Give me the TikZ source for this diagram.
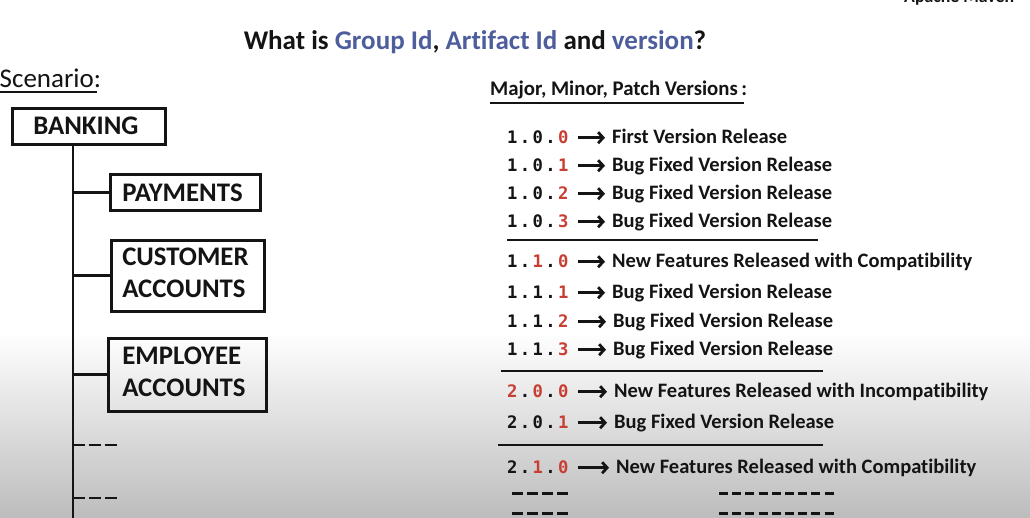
\documentclass[tikz,border=0pt]{standalone}
\usepackage{fontspec}
\setmainfont{Carlito}[Ligatures={NoCommon}]
\newfontfamily\vermono{DejaVu Sans Mono}
\usetikzlibrary{arrows.meta}

\definecolor{ink}{RGB}{20,20,20}
\definecolor{verred}{RGB}{200,62,50}
\definecolor{titleblue}{RGB}{78,94,156}

% version number: three digits spaced apart
\newcommand{\vgap}{\kern2.4pt}
\newcommand{\ver}[3]{#1\vgap.\vgap#2\vgap.\vgap#3}
\newcommand{\rd}[1]{\textcolor{verred}{#1}}
\newcommand{\bl}[1]{\textcolor{titleblue}{#1}}

\tikzset{
  box/.style={draw=ink, line width=2.6pt, align=left, anchor=north west,
    inner ysep=0pt, font=\fontsize{26.8}{32}\selectfont\bfseries, text=ink},
  trunk/.style={draw=ink, line width=2.8pt},
  stub/.style={draw=ink, line width=2.8pt, dash pattern=on 12pt off 4pt},
  vnum/.style={anchor=base west, inner sep=0pt, text=ink,
    font=\vermono\fontsize{17.2}{20}\selectfont\bfseries},
  desc/.style={anchor=base west, inner sep=0pt, text=ink,
    font=\fontsize{20.5}{24}\selectfont\bfseries},
  varrow/.style={draw=ink, line width=2.8pt,
    -{Straight Barb[length=5pt,width=11pt]}, shorten <=9pt, shorten >=7pt},
  rule/.style={draw=ink, line width=2pt},
  fill dash/.style={draw=ink, line width=3pt},
}

\begin{document}
\begin{tikzpicture}[x=1pt, y=-1pt]
\useasboundingbox (0,0) rectangle (1030,517);
\clip (0,0) rectangle (1030,517);

% page background with soft grey fade at the bottom
\fill[white] (0,0) rectangle (1030,517);
\shade[top color=white, bottom color=black!26] (0,332) rectangle (1030,517);

% header
\node[anchor=base west, inner sep=0pt, font=\fontsize{17.8}{20}\selectfont\bfseries, text=ink]
  (brand) at (904,2) {Apache Maven};
\node[anchor=base, inner sep=0pt, font=\fontsize{27}{32}\selectfont\bfseries, text=ink]
  (title) at (475,49) {What is \bl{Group Id}, \bl{Artifact Id} and \bl{version}?};

% scenario tree
\node[anchor=base west, inner sep=0pt, font=\fontsize{27}{30}\selectfont, text=ink]
  (scen) at (-0.5,87) {Scenario:};
\draw[rule] (0,92) -- (97,92);

\node[box, inner xsep=21pt, text width=111pt, minimum height=36pt] (bank) at (11,107) {BANKING};
\node[box, inner xsep=12pt, text width=126pt, minimum height=36pt] (pay) at (109,173) {PAYMENTS};
\node[box, inner xsep=11pt, text width=131pt, minimum height=71pt, text depth=38pt] (cust) at (110,239) {CUSTOMER\\ACCOUNTS};
\node[box, inner xsep=14pt, text width=130pt, minimum height=73pt, text depth=38pt] (emp) at (107,337) {EMPLOYEE\\ACCOUNTS};

\coordinate (tend) at (73,520);
\coordinate (moreA) at (118,445);
\coordinate (moreB) at (118,498);
\draw[trunk] (bank.south -| tend) -- (tend);
\draw[trunk] (pay.west -| tend) -- (pay.west);
\draw[trunk] (cust.west -| tend) -- (cust.west);
\draw[trunk] (emp.west -| tend) -- (emp.west);
\draw[stub] (moreA -| tend) -- (moreA);
\draw[stub] (moreB -| tend) -- (moreB);

% semantic versioning list
\node[anchor=base west, inner sep=0pt, font=\fontsize{20.8}{24}\selectfont\bfseries, text=ink]
  (major) at (490,95) {Major, Minor, Patch Versions\,:};
\draw[rule] (490,103) -- (744,103);

\node[vnum] (v1) at (507,143) {\ver{1}{0}{\rd{0}}};
\node[desc] (d1) at (612,143) {First Version Release};
\node[vnum] (v2) at (507,171) {\ver{1}{0}{\rd{1}}};
\node[desc] (d2) at (612,171) {Bug Fixed Version Release};
\node[vnum] (v3) at (507,199) {\ver{1}{0}{\rd{2}}};
\node[desc] (d3) at (612,199) {Bug Fixed Version Release};
\node[vnum] (v4) at (507,227) {\ver{1}{0}{\rd{3}}};
\node[desc] (d4) at (612,227) {Bug Fixed Version Release};
\coordinate (s1a) at (507,240); \coordinate (s1b) at (818,240);
\draw[rule] (s1a) -- (s1b);

\node[vnum] (v5) at (507,267) {\ver{1}{\rd{1}}{\rd{0}}};
\node[desc] (d5) at (612,267) {New Features Released with Compatibility};
\node[vnum] (v6) at (507,298) {\ver{1}{1}{\rd{1}}};
\node[desc] (d6) at (612,298) {Bug Fixed Version Release};
\node[vnum] (v7) at (507,327) {\ver{1}{1}{\rd{2}}};
\node[desc] (d7) at (613,327) {Bug Fixed Version Release};
\node[vnum] (v8) at (507,355) {\ver{1}{1}{\rd{3}}};
\node[desc] (d8) at (613,355) {Bug Fixed Version Release};
\coordinate (s2a) at (501,371); \coordinate (s2b) at (823,371);
\draw[rule] (s2a) -- (s2b);

\node[vnum] (v9) at (507,397) {\ver{\rd{2}}{\rd{0}}{\rd{0}}};
\node[desc] (d9) at (614,397) {New Features Released with Incompatibility};
\node[vnum] (v10) at (507,428) {\ver{2}{0}{\rd{1}}};
\node[desc] (d10) at (614,428) {Bug Fixed Version Release};
\coordinate (s3a) at (498,445); \coordinate (s3b) at (823,445);
\draw[rule] (s3a) -- (s3b);

\node[vnum] (v11) at (507,473) {\ver{2}{\rd{1}}{\rd{0}}};
\node[desc] (d11) at (616,473) {New Features Released with Compatibility};

\foreach \k in {1,...,11}
  \draw[varrow] ([yshift=5.3pt]v\k.base east) -- ([yshift=5.3pt]v\k.base east -| d\k.west);

% placeholder dashes for further releases
\coordinate (pa1) at (512,493); \coordinate (pa2) at (570,493);
\coordinate (pb1) at (512,513); \coordinate (pb2) at (570,513);
\coordinate (qa1) at (719,493); \coordinate (qa2) at (834,493);
\coordinate (qb1) at (719,513); \coordinate (qb2) at (834,513);
\draw[fill dash, dash pattern=on 10.5pt off 4.5pt] (pa1) -- (pa2);
\draw[fill dash, dash pattern=on 10.5pt off 4.5pt] (pb1) -- (pb2);
\draw[fill dash, dash pattern=on 9pt off 4.2pt] (qa1) -- (qa2);
\draw[fill dash, dash pattern=on 9pt off 4.2pt] (qb1) -- (qb2);
\end{tikzpicture}
\end{document}
